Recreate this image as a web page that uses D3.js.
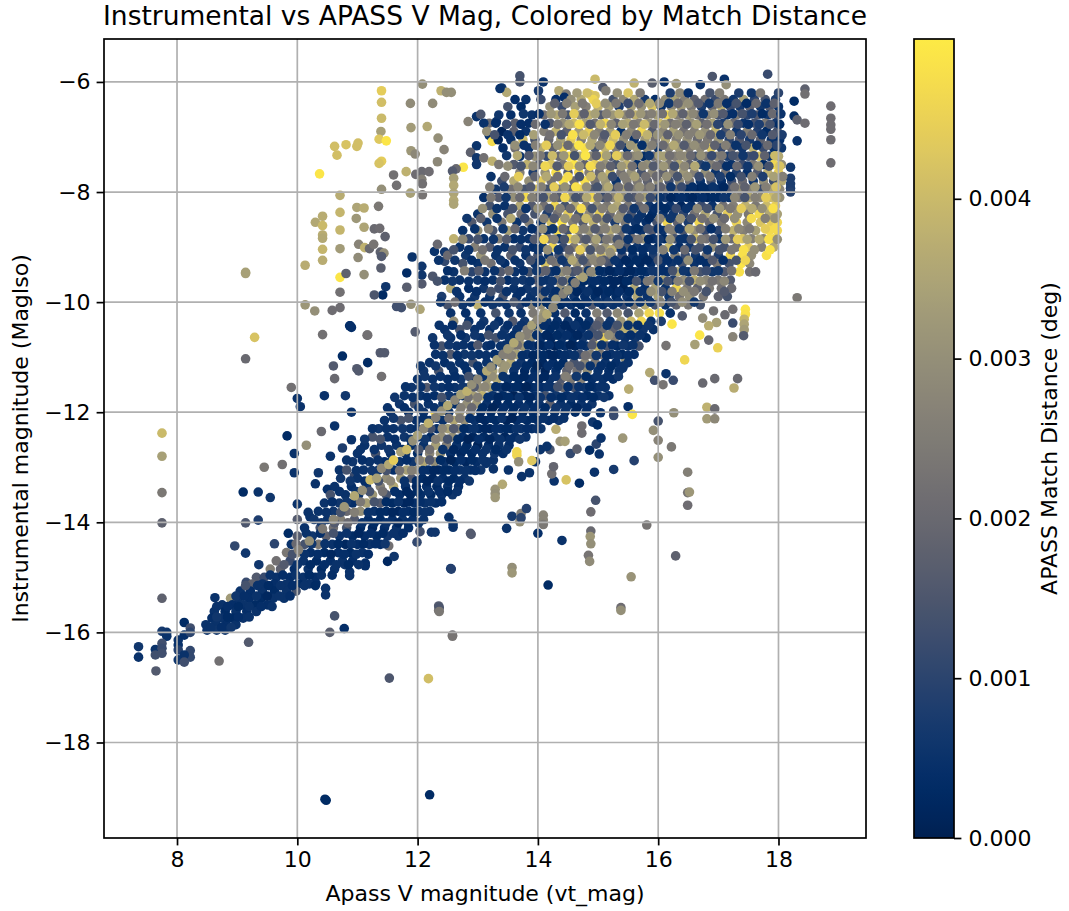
<!DOCTYPE html>
<html>
<head>
<meta charset="utf-8">
<script src="https://cdn.jsdelivr.net/npm/d3@7"></script>
<style>
  body { margin: 0; background: #fff; }
  text { font-family: "DejaVu Sans", sans-serif; fill: #000; }
</style>
</head>
<body>
<svg id="chart" width="1069" height="911"></svg>
<script>
// Labels and ticks.
var TITLE = 'Instrumental vs APASS V Mag, Colored by Match Distance';
var X_LABEL = 'Apass V magnitude (vt_mag)';
var Y_LABEL = 'Instrumental magnitude (MagIso)';
var BAR_LABEL = 'APASS Match Distance (deg)';
var xTicks = [8, 10, 12, 14, 16, 18];
var yTicks = [-6, -8, -10, -12, -14, -16, -18];
var barTicks = [0, 0.001, 0.002, 0.003, 0.004];
var xDomain = [6.786, 19.455];
var yDomain = [-5.22, -19.735];
var barDomain = [0, 0.005];

// Sparse stars, read one at a time: [vt_mag, MagIso, distance]
var outliers = [
  [11.4,-6.16,44],[11.4,-6.37,41],[11.88,-6.39,29],[12.08,-6.04,30],[12.25,-6.39,29],[12.39,-6.16,38],[12.48,-6.19,30],[12.56,-6.19,30],
  [11.4,-6.66,40],[11.39,-6.9,34],[11.89,-6.83,33],[12.16,-6.81,36],[12.34,-7.02,30],[11.36,-7.04,43],[11.48,-7.07,49],[10.62,-7.17,41],
  [10.81,-7.14,42],[10.99,-7.17,41],[11.01,-7.11,41],[10.66,-7.33,41],[11.89,-7.25,32],[11.96,-7.31,28],[12.44,-7.23,27],[11.4,-7.44,44],
  [11.36,-7.48,42],[12.33,-7.45,28],[10.37,-7.67,49],[11.6,-7.69,22],[11.65,-7.88,22],[11.81,-7.63,38],[11.97,-7.68,21],[12.07,-7.63,20],
  [12.19,-7.63,21],[12.07,-7.77,26],[12.08,-7.85,22],[11.4,-7.95,30],[11.88,-8.02,34],[12.08,-8.05,23],[10.71,-8.06,37],[10.71,-8.37,39],
  [10.99,-8.28,35],[11.11,-8.29,37],[11.35,-8.26,24],[10.42,-8.44,37],[10.3,-8.55,36],[10.42,-8.61,40],[10.42,-8.78,37],[10.42,-8.84,36],
  [10.71,-8.69,39],[10.98,-8.48,32],[11.11,-8.64,35],[11.28,-8.67,20],[11.37,-8.66,21],[11.46,-8.81,18],[11.02,-8.95,27],[11.12,-9.01,38],
  [11.2,-9.03,20],[11.27,-8.95,23],[10.42,-9.04,39],[10.42,-9.24,37],[10.71,-9.03,33],[11.01,-9.19,29],[11.38,-9.09,18],[11.44,-9.11,30],
  [11.4,-9.17,16],[11.39,-9.38,17],[10.13,-9.33,37],[9.14,-9.46,34],[9.14,-9.48,34],[10.71,-9.55,49],[10.81,-9.48,18],[11.11,-9.5,30],
  [11.82,-9.47,3],[12.07,-9.35,6],[12.07,-9.51,6],[12.07,-9.67,16],[12.25,-9.53,15],[11.91,-9.18,5],[12.28,-9.08,5],[12.45,-9.09,6],
  [12.45,-9.26,11],[12.33,-8.95,20],[11.47,-9.72,6],[11.42,-9.87,3],[11.28,-9.87,15],[11.82,-9.73,17],[10.71,-9.82,22],[10.71,-10.1,21],
  [10.58,-10.15,21],[10.29,-10.16,30],[10.13,-10.05,32],[10.87,-10.43,4],[10.9,-10.46,4],[10.42,-10.59,22],[11.16,-10.6,22],[9.29,-10.64,42],
  [11.65,-10.08,13],[11.73,-10.1,13],[11.89,-10.04,30],[12.04,-10.13,35],[11.96,-10.54,16],[9.14,-11.03,20],[9.83,-12.43,3],
  [7.75,-12.38,40],[7.75,-12.8,34],[7.75,-13.46,24],[7.75,-14.01,18],[7.75,-15.38,18],[7.36,-16.26,6],[7.36,-16.45,5],[7.64,-16.31,5],
  [7.64,-16.41,13],[7.65,-16.7,16],[7.75,-15.98,7],[7.83,-16,6],[7.83,-16.07,5],[7.75,-16.2,13],[7.75,-16.29,12],[7.75,-16.38,13],
  [8.02,-16.14,5],[8.02,-16.23,5],[8.02,-16.32,9],[8.02,-16.5,6],[8.12,-15.82,3],[8.12,-16.05,4],[8.22,-15.92,13],[8.22,-16,10],
  [8.22,-16.33,11],[8.22,-16.45,11],[8.12,-16.41,5],[8.12,-16.54,13],[8.63,-15.37,5],[8.7,-16.52,22],[9.19,-16.18,16],[8.96,-14.43,11],
  [9.14,-14.56,6],[9.14,-14.01,15],[9.35,-13.96,8],[9.62,-14.39,10],[9.36,-14.77,6],[9.15,-15.09,12],[9.85,-14.2,3],[10,-13.67,5],
  [10,-13.95,16],[10.18,-13.82,5],[10.21,-13.9,5],[10.47,-15.2,5],[10.47,-15.32,5],[10.62,-15.7,14],[10.54,-16,17],[10.78,-15.93,4],
  [10.31,-15.11,4],[10.87,-14.9,5],[10.87,-14.97,5],[11.13,-14.74,4],[11.13,-14.79,4],[10.79,-14.77,6],[11.5,-14.71,2],[11.61,-14.62,6],
  [11.52,-14.43,22],[11.22,-14.39,17],[11.99,-14.36,11],[12.04,-14.17,13],[12.23,-14.18,6],[12.29,-14.18,6],[12.55,-14.84,7],[12.88,-14.2,16],
  [12.52,-13.91,5],[12.59,-14.03,5],[12.59,-14.09,5],[12.35,-15.52,16],[12.35,-15.6,23],[12.58,-16.05,21],[12.58,-16.07,23],[11.53,-16.83,15],
  [12.18,-16.84,41],[10.48,-19.05,3],[10.46,-19.03,3],[12.2,-18.95,3],
  [17.45,-10.13,49],[17.45,-10.22,48],[17.43,-10.31,39],[17.43,-10.4,35],[17.43,-10.5,33],[17.42,-10.61,16],[17.24,-10.13,22],[17.24,-10.38,12],
  [17.24,-10.63,27],[17.11,-10.23,20],[16.92,-10.16,22],[16.97,-10.37,34],[16.84,-10.43,37],[16.74,-10.29,29],[16.69,-10.6,49],[16.61,-10.77,34],
  [16.84,-10.69,19],[16.99,-10.83,45],[16.44,-11.05,46],[16.13,-10.79,23],[16.23,-10.4,49],[16.4,-10.25,16],[16.74,-11.47,20],[16.94,-11.39,20],
  [17.32,-11.39,20],[17.26,-11.56,37],[16.81,-11.91,38],[16.94,-11.94,20],[16.81,-12.12,33],[16.94,-12.12,28],[16.26,-12.01,30],[16,-12.16,14],
  [15.92,-12.33,30],[16,-12.51,27],[16.22,-12.63,24],[16,-12.82,30],[16.49,-13.09,26],[16.49,-13.46,23],[16.52,-13.45,32],[16.49,-13.69,21],
  [15.81,-14.05,23],[16.29,-14.61,18],[15.55,-14.99,31],[15.38,-15.55,21],[15.38,-15.6,30],[14.17,-15.14,3],[13.57,-14.82,30],[13.57,-14.92,32],
  [12.56,-14.85,9],[12.36,-15.55,15],[12.36,-15.62,24],[12.89,-14.22,16],[13.48,-14.11,5],[14,-14.2,4],[14.4,-14.33,5],[14.88,-13.81,21],
  [14.96,-13.6,14],[14.88,-14.16,20],[14.87,-14.26,32],[14.88,-14.39,30],[14.84,-14.6,23],[14.86,-14.71,29],[14.09,-13.87,27],[14.09,-13.96,27],
  [14.09,-14.04,24],[13.57,-13.89,7],[13.72,-13.84,25],[13.7,-13.99,30],[13.72,-13.92,10],[13.81,-13.75,9],[13.41,-13.31,36],[13.29,-13.4,31],
  [13.29,-13.48,30],[13.29,-13.55,32],[14.27,-13.25,5],[14.23,-13.12,22],[14.26,-12.99,19],[14.47,-13.23,42],[14.69,-13.29,3],[14.94,-13.09,5],
  [15.26,-13.04,7],[15.6,-12.88,9],[15.02,-12.76,5],[14.86,-12.69,3],[14.97,-12.58,10],[15.05,-12.47,5],[14.54,-12.75,11],[14.65,-12.67,18],
  [15.41,-12.47,32],[14.73,-12.25,21],[14.73,-12.38,21],[14.91,-12.18,6],[14.99,-12.23,3],[15.5,-11.9,4],[15.57,-12.04,49],[15.26,-11.98,12],
  [15.26,-12.06,12],[15.04,-12.01,5],[15.51,-11.58,37],[15.41,-11.2,6],[15.45,-11.02,31],[15.86,-11.28,36],[15.94,-11.42,13],[16.08,-11.5,23],
  [16.13,-11.3,5],[16.25,-11.42,12],[13.65,-12.72,46],[13.65,-12.78,46],[13.68,-12.9,30],[13.96,-12.9,5],[13.9,-12.88,43],[13.51,-13.05,5],
  [13.73,-13.17,5],[13.86,-13.1,5],[13.26,-12.87,5],[13.26,-13.03,5],[13.14,-12.93,5],[14.3,-12.31,37],[14.37,-12.53,31],[14.45,-12.53,34],
  [14.2,-12.68,14],[14.04,-12.68,5],[14.15,-12.62,5],[13.7,-6.0,14],[13.7,-5.89,14],[14.09,-6,5],[14.95,-5.95,40],[15.6,-6.02,38],[15.9,-6.02,17],
  [16.1,-6,5],[16.3,-6.03,32],[16.7,-6.05,5],[16.9,-5.9,15],[17.1,-5.95,5],[17.82,-5.86,12],[17.13,-6.05,30],[18.26,-6.35,3],[18.44,-6.13,18],
  [18.44,-6.22,22],[18.87,-6.44,21],[18.87,-6.66,21],[18.87,-6.78,21],[18.87,-6.86,21],[18.87,-7.05,21],[18.87,-7.47,21],[18.26,-6.62,3],
  [18.31,-6.69,18],[18.44,-6.75,21],[18.31,-7.07,5],[18.2,-7.55,6],[18.2,-7.75,8],[18.2,-7.85,8],[18.2,-7.93,8],[18.2,-8,9],[18.31,-9.92,24],
  [13.4,-6.11,6],[13.48,-6.19,36],[14.01,-6.16,7],[14.35,-6.16,36],[14.47,-6.22,25],[14.44,-6.28,4],[15.08,-6.1,15],[15.13,-6.16,25],
  [14.87,-6.23,45],[14.95,-6.25,42],[12.84,-6.72,27],[12.98,-6.63,5],[13.05,-6.59,15],[13.19,-6.75,20],[13.31,-6.72,6],[13.37,-6.12,5],
  [13.19,-6.97,5],[13.24,-7.08,47],[13.34,-7.05,1],[12.98,-7.16,5],[12.88,-7.28,18],[12.98,-7.38,6],[13.1,-7.38,22],[13.24,-7.44,38],
  [12.98,-7.5,6],[12.76,-7.55,49],[12.64,-7.58,20],[12.58,-7.62,16],[12.6,-7.75,34],[12.6,-7.88,36],[12.6,-8.02,35],[12.6,-8.15,36],[12.6,-8.22,35],
  [10.6,-11.16,16],[10.62,-11.39,20],[10.99,-11.21,16],[11.02,-11.25,16],[11.17,-10.6,22],[10.88,-10.43,4],[10.75,-10.98,3],[11.17,-11.1,3],
  [11.38,-10.92,16],[11.45,-10.92,16],[11.4,-11.35,22],[10.8,-11.7,6],[10.45,-11.7,5],[10.9,-12.0,5],[10.62,-12.25,5],[10.9,-12.5,5],[10.55,-12.8,5],
  [10.4,-12.35,20],[10.75,-12.65,8],[10.35,-13.1,6],[10.7,-13.05,5],[10.95,-13.15,12],[10.5,-13.4,4],[10.3,-13.3,5],[9.95,-13.1,5],[9.75,-12.95,22],
  [9.95,-12.75,5],[10.15,-12.6,30],[9.9,-11.55,22],[10,-11.75,5],[10.05,-11.9,5],[9.45,-13,24],[9.55,-13.55,6],[9.35,-13.45,5],[9.1,-13.45,3]
];

// Dense cloud, read row by row: [MagIso, vt_mag, distance, vt_mag, distance, ...]
var cloudRows = [
  [-6.32, 13.62,4, 13.8,5, 14.05,12, 14.3,4, 14.55,30, 14.72,36, 14.92,46, 15.25,14, 15.42,28, 15.6,36, 15.78,7, 15.95,4, 16.12,30, 16.28,34, 16.44,26, 16.6,18, 16.78,22, 16.95,12, 17.1,24, 17.25,6, 17.42,34, 17.6,10, 17.78,14, 17.95,8],
  [-6.45, 13.5,14, 13.72,3, 14.2,30, 14.4,12, 14.62,34, 14.8,26, 15,38, 15.18,34, 15.35,8, 15.55,33, 15.72,30, 15.9,42, 16.05,5, 16.22,28, 16.38,32, 16.55,24, 16.72,8, 16.9,20, 17.05,36, 17.2,12, 17.36,7, 17.52,18, 17.7,6, 17.85,16, 18,5],
  [-6.6, 13.35,6, 13.55,4, 13.9,5, 14.1,22, 14.32,36, 14.5,14, 14.7,30, 14.85,38, 15.05,16, 15.25,32, 15.45,28, 15.62,38, 15.8,24, 15.98,34, 16.15,46, 16.32,26, 16.5,33, 16.66,22, 16.82,26, 17,14, 17.15,5, 17.3,24, 17.48,10, 17.65,16, 17.82,6, 17.98,12],
  [-6.75, 13.1,5, 13.3,4, 13.62,18, 13.85,4, 14.2,16, 14.42,30, 14.6,40, 14.78,34, 14.95,22, 15.12,46, 15.3,18, 15.5,36, 15.68,26, 15.85,30, 16.02,40, 16.2,22, 16.38,28, 16.55,30, 16.72,18, 16.9,34, 17.08,8, 17.25,20, 17.42,5, 17.6,13, 17.78,24, 17.95,7],
  [-6.9, 13.15,30, 13.4,1, 13.6,18, 13.8,5, 14.1,26, 14.3,38, 14.48,18, 14.68,33, 14.85,44, 15.02,26, 15.2,34, 15.38,4, 15.55,28, 15.72,46, 15.9,16, 16.08,28, 16.25,34, 16.42,22, 16.6,26, 16.78,30, 16.95,38, 17.12,14, 17.3,6, 17.48,26, 17.65,9, 17.8,3, 17.98,14],
  [-7.05, 13.55,5, 13.75,40, 13.95,14, 14.18,20, 14.38,34, 14.55,44, 14.72,26, 14.9,36, 15.08,20, 15.25,40, 15.42,30, 15.6,4, 15.78,32, 15.95,22, 16.12,36, 16.3,26, 16.48,30, 16.65,20, 16.82,24, 17,32, 17.18,10, 17.35,16, 17.52,7, 17.7,18, 17.88,5, 18.02,4],
  [-7.2, 13.42,4, 13.62,22, 13.85,5, 14.05,36, 14.25,18, 14.42,46, 14.6,30, 14.78,48, 14.95,14, 15.12,38, 15.3,26, 15.48,5, 15.65,34, 15.82,30, 16,6, 16.18,28, 16.35,32, 16.52,24, 16.7,28, 16.88,42, 17.05,12, 17.22,20, 17.4,6, 17.58,38, 17.75,12, 17.92,4, 18.05,6],
  [-7.35, 13.7,5, 13.95,30, 14.15,12, 14.35,20, 14.52,48, 14.7,36, 14.88,28, 15.05,46, 15.22,16, 15.4,34, 15.58,28, 15.75,3, 15.92,22, 16.1,34, 16.28,26, 16.45,30, 16.62,14, 16.8,22, 16.98,28, 17.15,8, 17.32,18, 17.5,14, 17.68,42, 17.85,6, 18,36],
  [-7.5, 13.35,24, 13.6,16, 13.82,38, 14.02,18, 14.22,42, 14.42,24, 14.6,49, 14.78,18, 14.95,44, 15.12,30, 15.3,14, 15.48,38, 15.65,4, 15.82,30, 16,26, 16.18,24, 16.35,36, 16.52,18, 16.7,10, 16.88,26, 17.05,16, 17.22,5, 17.4,12, 17.58,24, 17.75,3, 17.92,46, 18.05,30],
  [-7.65, 13.7,26, 13.92,8, 14.12,30, 14.3,48, 14.5,16, 14.68,47, 14.85,26, 15.02,20, 15.2,40, 15.38,22, 15.55,30, 15.72,14, 15.9,28, 16.08,18, 16.25,26, 16.42,32, 16.6,26, 16.78,30, 16.95,5, 17.12,22, 17.3,8, 17.48,4, 17.65,16, 17.82,38, 18,44],
  [-7.8, 13.4,12, 13.6,36, 13.85,30, 14.05,44, 14.22,22, 14.42,49, 14.6,20, 14.78,48, 14.95,22, 15.12,32, 15.3,5, 15.48,26, 15.65,24, 15.82,18, 16,30, 16.18,13, 16.35,28, 16.52,22, 16.7,5, 16.88,14, 17.05,4, 17.22,12, 17.4,20, 17.58,6, 17.75,30, 17.92,12, 18.05,36],
  [-7.95, 13.3,6, 13.55,22, 13.78,14, 13.98,42, 14.15,14, 14.35,24, 14.55,18, 14.72,44, 14.9,16, 15.08,30, 15.25,14, 15.42,34, 15.6,26, 15.78,22, 15.95,14, 16.12,26, 16.3,20, 16.48,3, 16.65,2, 16.82,3, 17,4, 17.18,16, 17.35,30, 17.52,26, 17.7,12, 17.88,34, 18.02,28],
  [-8.1, 13.1,4, 13.35,16, 13.6,30, 13.8,47, 14,20, 14.18,36, 14.35,16, 14.55,30, 14.72,18, 14.9,46, 15.08,12, 15.25,28, 15.42,30, 15.6,16, 15.78,34, 15.95,26, 16.12,8, 16.3,4, 16.48,3, 16.65,5, 16.82,2, 17,3, 17.18,5, 17.35,24, 17.52,36, 17.7,28, 17.88,40, 18.02,30],
  [-8.25, 13.2,14, 13.45,5, 13.7,36, 13.9,16, 14.1,22, 14.28,46, 14.45,14, 14.62,36, 14.8,24, 14.98,30, 15.15,24, 15.32,36, 15.5,24, 15.68,20, 15.85,6, 16.02,3, 16.2,5, 16.38,2, 16.55,4, 16.72,12, 16.9,5, 17.08,22, 17.25,26, 17.45,38, 17.62,24, 17.8,40, 17.95,44],
  [-8.4, 13,5, 13.25,30, 13.5,14, 13.72,22, 13.95,14, 14.15,8, 14.32,22, 14.5,44, 14.68,14, 14.85,28, 15.02,44, 15.2,20, 15.38,28, 15.55,14, 15.72,5, 15.9,3, 16.08,5, 16.25,6, 16.42,10, 16.6,22, 16.78,36, 16.98,14, 17.15,44, 17.32,30, 17.5,24, 17.68,47, 17.85,36, 17.98,34],
  [-8.55, 12.9,16, 13.15,6, 13.4,24, 13.65,5, 13.85,26, 14.05,5, 14.22,42, 14.4,49, 14.58,26, 14.75,16, 14.92,38, 15.1,30, 15.28,8, 15.45,24, 15.62,6, 15.8,4, 15.98,14, 16.15,46, 16.32,18, 16.5,8, 16.68,46, 16.85,20, 17.05,24, 17.3,45, 17.48,28, 17.7,42, 17.88,44, 17.98,46],
  [-8.7, 12.75,5, 13,30, 13.25,14, 13.5,34, 13.75,6, 14,12, 14.15,5, 14.32,47, 14.5,14, 14.68,28, 14.85,32, 15.02,24, 15.2,36, 15.38,20, 15.55,4, 15.72,5, 15.9,16, 16.08,5, 16.25,26, 16.42,14, 16.6,30, 16.78,12, 17,10, 17.25,38, 17.42,26, 17.62,34, 17.85,47, 17.98,46],
  [-8.85, 12.6,38, 12.85,12, 13.1,5, 13.35,26, 13.6,4, 13.85,5, 14.02,14, 14.18,22, 14.35,6, 14.52,46, 14.7,20, 14.88,26, 15.05,14, 15.22,28, 15.4,22, 15.58,20, 15.75,30, 15.92,4, 16.1,3, 16.28,14, 16.45,5, 16.62,40, 16.8,22, 17.02,5, 17.22,20, 17.4,42, 17.55,26, 17.75,28, 17.92,47],
  [-9, 12.7,5, 12.95,26, 13.2,16, 13.45,5, 13.7,12, 13.92,4, 14.08,6, 14.25,46, 14.42,12, 14.6,24, 14.78,36, 14.95,28, 15.12,32, 15.3,26, 15.48,14, 15.65,6, 15.82,5, 16,3, 16.18,40, 16.35,4, 16.52,6, 16.7,14, 16.9,30, 17.1,14, 17.3,24, 17.5,44, 17.72,26, 17.92,36],
  [-9.15, 12.5,20, 12.8,6, 13.05,32, 13.3,5, 13.55,18, 13.8,5, 14,14, 14.18,5, 14.35,14, 14.52,28, 14.7,20, 14.88,30, 15.05,40, 15.22,26, 15.4,12, 15.58,5, 15.75,3, 15.92,8, 16.1,5, 16.28,26, 16.45,12, 16.62,6, 16.8,22, 17,8, 17.2,46, 17.4,48, 17.55,30, 17.8,48],
  [-9.3, 12.75,14, 13,5, 13.22,22, 13.45,4, 13.7,6, 13.95,5, 14.12,42, 14.3,24, 14.48,8, 14.65,30, 14.82,22, 15,26, 15.18,14, 15.35,4, 15.52,3, 15.7,2, 15.88,4, 16.05,5, 16.22,6, 16.4,14, 16.6,5, 16.8,4, 16.98,24, 17.18,14, 17.38,49, 17.52,28],
  [-9.45, 12.6,5, 12.9,10, 13.12,5, 13.38,16, 13.62,5, 13.85,14, 14.05,20, 14.22,6, 14.4,30, 14.58,14, 14.75,28, 14.92,34, 15.1,5, 15.28,3, 15.45,2, 15.62,4, 15.8,4, 15.98,6, 16.15,5, 16.32,36, 16.5,5, 16.7,14, 16.9,6, 17.1,16, 17.35,48, 17.52,22, 17.62,20],
  [-9.6, 12.45,5, 12.7,5, 13,6, 13.25,5, 13.5,4, 13.75,6, 13.98,16, 14.15,5, 14.32,24, 14.5,30, 14.68,38, 14.85,5, 15.02,4, 15.2,2, 15.38,1, 15.55,2, 15.72,3, 15.9,26, 16.08,36, 16.25,8, 16.42,30, 16.6,38, 16.8,28, 17,24, 17.2,16],
  [-9.75, 12.55,36, 12.85,4, 13.1,6, 13.35,12, 13.6,5, 13.82,6, 14.02,16, 14.2,6, 14.38,30, 14.55,6, 14.72,4, 14.9,3, 15.08,4, 15.25,2, 15.42,1, 15.6,36, 15.78,4, 15.95,34, 16.12,5, 16.3,46, 16.48,24, 16.65,18, 16.85,24, 17.05,22, 17.22,20],
  [-9.9, 12.4,8, 12.7,5, 12.95,6, 13.2,5, 13.42,14, 13.65,4, 13.88,5, 14.08,26, 14.25,5, 14.42,4, 14.6,6, 14.78,4, 14.95,3, 15.12,4, 15.3,3, 15.48,5, 15.65,36, 15.82,5, 16,34, 16.18,6, 16.35,22, 16.52,30, 16.75,24, 17,18, 17.15,14],
  [-10.05, 12.5,14, 12.75,6, 13,38, 13.25,6, 13.48,5, 13.7,10, 13.9,26, 14.05,30, 14.2,5, 14.38,3, 14.55,5, 14.72,3, 14.9,16, 15.08,4, 15.25,5, 15.42,12, 15.6,24, 15.78,36, 15.95,14, 16.12,5, 16.3,18, 16.5,24, 16.7,14],
  [-10.2, 12.55,5, 12.8,4, 13.05,5, 13.3,14, 13.52,6, 13.72,5, 13.92,24, 14.1,32, 14.28,4, 14.45,16, 14.62,3, 14.8,5, 14.98,26, 15.15,16, 15.32,28, 15.5,14, 15.68,34, 15.85,46, 16.02,48, 16.2,5]
];

// Second pass over the cloud, stars that sit between the first rows.
var cloudInfill = [
  [-6.2, 14.65,33, 14.82,40, 15.32,30, 15.5,42, 15.7,24, 16.2,8, 16.36,28, 16.5,4, 16.86,14, 17.02,26, 17.34,8, 17.55,6, 17.7,24, 18,10],
  [-6.39, 14.28,18, 14.48,26, 14.74,24, 14.97,44, 15.12,30, 15.3,24, 15.5,12, 15.68,22, 15.86,36, 16.02,28, 16.18,6, 16.33,20, 16.5,30, 16.67,16, 16.85,6, 17,24, 17.14,4, 17.3,14, 17.47,3, 17.63,20, 17.8,5, 17.93,18],
  [-6.58, 13.76,6, 14.02,4, 14.22,32, 14.41,24, 14.6,44, 14.77,18, 14.95,34, 15.14,26, 15.35,38, 15.53,22, 15.71,32, 15.89,26, 16.07,22, 16.24,36, 16.41,18, 16.58,28, 16.75,6, 16.93,30, 17.08,16, 17.24,4, 17.4,14, 17.56,8, 17.73,3, 17.9,20, 18.04,5],
  [-6.77, 13.48,12, 13.72,4, 13.96,20, 14.12,5, 14.33,24, 14.52,36, 14.69,48, 14.87,16, 15.04,38, 15.22,28, 15.41,34, 15.59,24, 15.77,40, 15.94,20, 16.11,32, 16.29,26, 16.47,18, 16.64,34, 16.81,22, 16.99,10, 17.16,30, 17.33,12, 17.5,4, 17.68,8, 17.86,14, 18.02,3],
  [-6.96, 13.28,14, 13.5,5, 13.7,3, 13.93,34, 14.2,22, 14.39,14, 14.58,48, 14.76,40, 14.94,28, 15.11,16, 15.29,44, 15.47,26, 15.64,20, 15.82,38, 15.99,30, 16.16,18, 16.34,30, 16.51,26, 16.69,32, 16.87,20, 17.04,8, 17.2,26, 17.38,10, 17.56,20, 17.73,6, 17.9,16, 18.06,8],
  [-7.15, 13.62,30, 13.77,5, 13.96,26, 14.14,44, 14.33,30, 14.5,20, 14.68,49, 14.87,36, 15.03,28, 15.2,46, 15.37,14, 15.54,32, 15.73,4, 15.9,26, 16.08,20, 16.26,36, 16.43,16, 16.6,30, 16.77,24, 16.94,18, 17.12,26, 17.29,5, 17.46,14, 17.64,4, 17.82,20, 17.97,10],
  [-7.34, 13.48,6, 13.66,36, 13.85,16, 14.04,24, 14.24,40, 14.43,32, 14.61,14, 14.79,49, 14.97,18, 15.14,34, 15.31,44, 15.49,20, 15.67,30, 15.85,6, 16.02,34, 16.19,22, 16.37,28, 16.54,20, 16.71,30, 16.89,12, 17.06,24, 17.24,14, 17.41,6, 17.59,12, 17.77,18, 17.94,40],
  [-7.53, 13.5,30, 13.72,14, 13.92,28, 14.12,46, 14.32,16, 14.51,44, 14.69,30, 14.87,47, 15.04,26, 15.21,18, 15.39,32, 15.57,22, 15.74,28, 15.92,16, 16.09,32, 16.27,14, 16.44,28, 16.61,36, 16.79,6, 16.97,20, 17.14,4, 17.31,20, 17.49,6, 17.67,30, 17.84,14, 18.02,42],
  [-7.72, 13.22,5, 13.45,20, 13.68,44, 13.95,18, 14.14,36, 14.33,22, 14.5,47, 14.69,14, 14.88,40, 15.07,34, 15.24,12, 15.43,26, 15.61,34, 15.79,22, 15.97,20, 16.14,30, 16.32,14, 16.49,30, 16.68,12, 16.86,24, 17.03,8, 17.2,3, 17.38,14, 17.56,26, 17.74,8, 17.92,34, 18.07,26],
  [-7.91, 13.2,26, 13.44,8, 13.67,28, 13.88,16, 14.06,26, 14.27,44, 14.45,30, 14.63,48, 14.81,30, 14.99,14, 15.17,36, 15.34,22, 15.51,18, 15.69,30, 15.87,26, 16.04,18, 16.21,6, 16.39,12, 16.57,4, 16.74,3, 16.91,5, 17.09,2, 17.27,22, 17.44,18, 17.61,32, 17.79,26, 17.96,42],
  [-8.1, 13.22,24, 13.47,6, 13.7,20, 13.9,26, 14.09,14, 14.27,22, 14.45,46, 14.63,14, 14.81,36, 15,24, 15.16,18, 15.34,38, 15.51,14, 15.69,26, 15.87,12, 16.03,5, 16.21,2, 16.39,4, 16.57,2, 16.74,4, 16.91,3, 17.09,6, 17.27,28, 17.44,14, 17.61,26, 17.79,44, 17.96,36],
  [-8.3, 13.08,30, 13.32,5, 13.58,14, 13.8,5, 14,30, 14.19,14, 14.37,26, 14.54,20, 14.72,47, 14.9,14, 15.07,26, 15.24,34, 15.42,16, 15.6,6, 15.77,22, 15.95,4, 16.12,3, 16.3,12, 16.47,5, 16.65,28, 16.82,14, 17.02,32, 17.2,24, 17.38,44, 17.56,36, 17.73,30, 17.91,48],
  [-8.48, 12.82,6, 13.05,18, 13.32,5, 13.55,36, 13.78,12, 14.1,26, 14.27,16, 14.45,32, 14.63,22, 14.8,40, 14.98,20, 15.15,14, 15.33,30, 15.5,6, 15.67,5, 15.85,2, 16.03,26, 16.2,6, 16.37,30, 16.55,14, 16.73,22, 16.92,30, 17.1,20, 17.27,30, 17.55,47, 17.78,26, 17.94,30],
  [-8.67, 12.95,5, 13.18,26, 13.42,6, 13.62,20, 13.9,4, 14.08,30, 14.25,6, 14.42,20, 14.6,47, 14.77,26, 14.95,16, 15.12,26, 15.3,30, 15.47,6, 15.65,3, 15.83,14, 16,4, 16.18,26, 16.35,6, 16.52,36, 16.7,22, 16.88,4, 17.12,26, 17.34,28, 17.52,24, 17.78,44, 17.94,47],
  [-8.86, 12.75,28, 13,14, 13.26,6, 13.48,16, 13.72,5, 13.94,16, 14.1,46, 14.27,26, 14.44,14, 14.62,36, 14.8,16, 14.97,34, 15.14,24, 15.32,14, 15.5,5, 15.67,24, 15.84,2, 16.02,6, 16.2,30, 16.37,5, 16.55,14, 16.72,24, 16.92,14, 17.12,32, 17.32,44, 17.48,34, 17.68,36, 17.84,48, 17.98,30],
  [-9.05, 12.6,14, 12.85,5, 13.08,22, 13.33,5, 13.58,14, 13.8,6, 14,5, 14.16,30, 14.34,6, 14.52,18, 14.7,44, 14.87,14, 15.04,24, 15.22,38, 15.39,5, 15.57,3, 15.74,4, 15.91,6, 16.08,26, 16.26,6, 16.44,20, 16.62,14, 16.82,6, 17.02,14, 17.22,24, 17.42,48, 17.6,30, 17.86,49],
  [-9.24, 12.35,5, 12.62,6, 12.9,4, 13.12,24, 13.38,6, 13.62,5, 13.88,14, 14.05,5, 14.22,22, 14.4,6, 14.57,36, 14.75,14, 14.93,28, 15.1,16, 15.28,5, 15.46,2, 15.64,3, 15.82,2, 16,14, 16.15,4, 16.33,5, 16.5,30, 16.7,4, 16.9,16, 17.08,4, 17.3,14, 17.45,46],
  [-9.43, 12.5,4, 12.78,26, 13.02,16, 13.28,5, 13.52,20, 13.76,4, 13.98,6, 14.13,18, 14.3,4, 14.48,26, 14.66,16, 14.84,6, 15.02,3, 15.19,2, 15.36,4, 15.54,2, 15.72,3, 15.9,6, 16.07,4, 16.24,14, 16.42,6, 16.6,24, 16.8,12, 17,6, 17.22,22],
  [-9.62, 12.33,14, 12.58,6, 12.85,5, 13.12,4, 13.38,14, 13.62,6, 13.87,5, 14.06,5, 14.24,6, 14.41,14, 14.58,4, 14.76,3, 14.94,4, 15.11,3, 15.29,2, 15.47,3, 15.64,14, 15.82,24, 16,6, 16.16,14, 16.33,26, 16.52,14, 16.7,30, 16.9,22, 17.1,28],
  [-9.81, 12.65,5, 12.98,4, 13.22,14, 13.48,5, 13.72,4, 13.95,6, 14.12,5, 14.3,4, 14.47,3, 14.65,2, 14.83,5, 15,2, 15.18,3, 15.35,4, 15.52,3, 15.7,5, 15.88,30, 16.06,14, 16.23,26, 16.42,30, 16.6,24, 16.8,14, 17.1,16],
  [-10, 12.38,6, 12.62,20, 12.88,5, 13.12,4, 13.36,6, 13.6,14, 13.8,4, 13.98,5, 14.14,3, 14.3,2, 14.47,4, 14.64,3, 14.82,4, 15,5, 15.17,6, 15.34,5, 15.52,3, 15.7,5, 15.87,6, 16.04,26, 16.22,14, 16.4,30, 16.6,6]
];

// Main sequence band, read row by row in the same form as the cloud.
var bandRows = [
  [-10.35, 12.6,30, 12.85,5, 13.1,6, 13.35,4, 13.58,16, 13.78,6, 13.98,30, 14.15,5, 14.32,4, 14.5,6, 14.68,3, 14.85,5, 15.02,20, 15.2,6, 15.38,32, 15.55,40, 15.72,46, 15.88,5, 16.05,8],
  [-10.5, 12.45,5, 12.7,14, 12.95,5, 13.2,4, 13.45,6, 13.65,5, 13.85,24, 14,32, 14.2,3, 14.38,5, 14.55,2, 14.72,4, 14.9,14, 15.08,22, 15.25,18, 15.42,38, 15.58,36, 15.75,6, 15.92,5],
  [-10.65, 12.25,6, 12.55,5, 12.8,6, 13.05,5, 13.3,14, 13.52,5, 13.7,28, 13.88,30, 14.05,4, 14.22,2, 14.4,5, 14.58,3, 14.75,6, 14.92,18, 15.1,44, 15.28,26, 15.45,5, 15.62,6, 15.8,3],
  [-10.8, 12.4,14, 12.65,5, 12.9,4, 13.15,5, 13.38,5, 13.58,30, 13.75,32, 13.92,5, 14.1,3, 14.28,1, 14.45,4, 14.62,2, 14.8,5, 14.98,38, 15.15,14, 15.32,3, 15.5,5, 15.68,14],
  [-10.95, 12.3,5, 12.55,16, 12.78,6, 13.02,5, 13.28,4, 13.48,28, 13.65,34, 13.82,5, 14,4, 14.18,2, 14.35,3, 14.52,5, 14.7,12, 14.88,26, 15.05,24, 15.22,5, 15.4,3, 15.6,4],
  [-11.1, 12.2,5, 12.45,4, 12.7,5, 12.92,14, 13.15,5, 13.38,30, 13.55,36, 13.72,6, 13.9,3, 14.08,2, 14.25,4, 14.42,3, 14.6,14, 14.78,28, 14.95,24, 15.12,5, 15.3,4, 15.5,5],
  [-11.25, 12.1,6, 12.35,14, 12.6,5, 12.82,4, 13.05,6, 13.25,34, 13.42,32, 13.6,5, 13.78,2, 13.95,3, 14.12,1, 14.3,4, 14.48,18, 14.65,22, 14.82,30, 15,5, 15.18,4, 15.35,5],
  [-11.4, 12,5, 12.25,5, 12.5,4, 12.72,6, 12.95,5, 13.15,32, 13.32,36, 13.5,5, 13.68,3, 13.85,4, 14.02,2, 14.2,5, 14.38,16, 14.55,24, 14.72,26, 14.9,4, 15.08,5, 15.25,4],
  [-11.55, 11.9,6, 12.15,16, 12.4,5, 12.62,5, 12.85,4, 13.02,30, 13.2,34, 13.38,6, 13.55,4, 13.72,2, 13.9,3, 14.08,4, 14.25,5, 14.42,20, 14.6,14, 14.78,6, 14.95,4, 15.12,5],
  [-11.7, 11.78,5, 12.05,5, 12.28,4, 12.52,6, 12.75,5, 12.92,34, 13.08,38, 13.25,5, 13.42,3, 13.6,1, 13.78,2, 13.95,4, 14.12,14, 14.3,6, 14.48,4, 14.65,5, 14.82,3, 15,5, 15.18,4],
  [-11.85, 11.7,6, 11.95,14, 12.18,5, 12.42,5, 12.62,4, 12.82,30, 12.98,32, 13.15,5, 13.32,2, 13.5,3, 13.68,4, 13.85,3, 14.02,5, 14.2,18, 14.38,5, 14.55,3, 14.72,5, 14.9,6],
  [-12, 11.55,5, 11.85,5, 12.1,6, 12.29,46, 12.52,5, 12.7,32, 12.88,28, 13.05,4, 13.22,3, 13.4,2, 13.58,4, 13.75,2, 13.92,5, 14.1,6, 14.28,5, 14.45,4, 14.62,3, 14.8,5],
  [-12.15, 11.45,5, 11.72,14, 11.98,4, 12.2,5, 12.42,5, 12.6,36, 12.78,30, 12.95,5, 13.12,2, 13.3,3, 13.48,1, 13.65,4, 13.82,3, 14,5, 14.18,4, 14.35,6],
  [-12.3, 11.35,6, 11.6,5, 11.88,5, 12.1,6, 12.32,4, 12.5,34, 12.68,28, 12.85,5, 13.02,3, 13.2,2, 13.38,4, 13.55,3, 13.72,5, 13.9,4, 14.05,6],
  [-12.45, 11.25,14, 11.5,5, 11.78,6, 12,5, 12.22,3, 12.4,30, 12.58,30, 12.75,4, 12.92,2, 13.1,3, 13.28,5, 13.45,2, 13.62,4, 13.8,5],
  [-12.6, 11.12,5, 11.4,6, 11.65,5, 11.9,4, 12.1,5, 12.3,34, 12.48,26, 12.65,5, 12.82,3, 13,1, 13.18,4, 13.35,5, 13.52,4],
  [-12.75, 11,5, 11.3,14, 11.55,5, 11.8,6, 12,3, 12.2,28, 12.38,32, 12.55,4, 12.72,2, 12.9,3, 13.08,5, 13.28,6, 13.42,4],
  [-12.9, 10.92,6, 11.2,5, 11.45,4, 11.7,5, 11.92,6, 12.1,36, 12.28,30, 12.45,5, 12.62,3, 12.8,2, 12.98,4, 13.15,5],
  [-13.05, 10.82,14, 11.1,5, 11.35,6, 11.6,4, 11.82,34, 12,30, 12.18,4, 12.35,2, 12.52,3, 12.7,5, 12.88,4, 13.05,6],
  [-13.2, 10.72,6, 11,5, 11.25,4, 11.48,30, 11.72,32, 11.9,16, 12.08,3, 12.25,2, 12.42,4, 12.6,3, 12.78,5],
  [-13.35, 10.62,5, 10.9,4, 11.15,6, 11.38,26, 11.6,36, 11.8,5, 11.98,2, 12.15,4, 12.32,3, 12.5,5, 12.68,4],
  [-13.5, 10.55,14, 10.8,5, 11.02,5, 11.25,32, 11.48,14, 11.7,4, 11.88,2, 12.05,4, 12.22,3, 12.4,5, 12.58,6],
  [-13.65, 10.45,5, 10.7,6, 10.92,4, 11.15,34, 11.38,16, 11.58,3, 11.78,2, 11.95,4, 12.12,5, 12.3,4],
  [-13.8, 10.35,5, 10.6,6, 10.82,20, 11.05,30, 11.28,5, 11.48,3, 11.68,2, 11.85,4, 12.02,5, 12.2,5],
  [-13.95, 10.28,6, 10.5,5, 10.72,26, 10.95,16, 11.18,4, 11.38,3, 11.58,4, 11.75,5, 11.92,4, 12.1,5],
  [-14.1, 10.12,5, 10.38,14, 10.6,22, 10.82,14, 11.05,3, 11.25,2, 11.45,4, 11.65,5, 11.85,4],
  [-14.25, 10,16, 10.25,6, 10.48,18, 10.7,5, 10.92,3, 11.12,4, 11.32,3, 11.5,6, 11.68,5],
  [-14.4, 9.9,5, 10.12,14, 10.35,24, 10.58,5, 10.8,2, 11,4, 11.2,5, 11.38,4],
  [-14.55, 9.82,24, 10,28, 10.22,4, 10.45,3, 10.68,4, 10.88,3, 11.08,5],
  [-14.7, 9.65,22, 9.88,12, 10.1,5, 10.32,3, 10.55,4, 10.75,5, 10.92,4],
  [-14.85, 9.55,26, 9.72,18, 9.95,4, 10.18,5, 10.4,3, 10.62,5],
  [-15, 9.32,16, 9.45,12, 9.65,5, 9.88,4, 10.1,5, 10.3,4],
  [-15.12, 9.25,18, 9.42,5, 9.62,4, 9.82,5, 10.02,3, 10.2,5],
  [-15.25, 9.05,5, 9.22,4, 9.42,5, 9.62,3, 9.82,5, 9.98,14],
  [-15.38, 8.89,33, 9.02,5, 9.2,4, 9.4,3, 9.6,5, 9.78,5],
  [-15.5, 8.75,5, 8.92,4, 9.1,5, 9.3,3, 9.5,4],
  [-15.62, 8.62,5, 8.8,3, 8.98,5, 9.16,4, 9.32,5],
  [-15.74, 8.58,4, 8.75,5, 8.92,3, 9.1,5],
  [-15.86, 8.48,5, 8.65,5, 8.82,4, 8.98,5],
  [-15.96, 8.5,5, 8.66,6, 8.8,5]
];

// Second pass over the band, stars that sit between the first rows.
var bandInfill = [
  [-10.42, 12.36,5, 12.58,4, 12.82,14, 13.05,5, 13.28,6, 13.5,4, 13.72,5, 13.92,6, 14.1,4, 14.28,3, 14.45,2, 14.62,5, 14.8,3, 14.98,16, 15.15,5, 15.32,14, 15.5,5, 15.66,4, 15.84,6],
  [-10.6, 12.5,6, 12.72,4, 12.95,6, 13.18,14, 13.4,5, 13.6,4, 13.8,26, 13.98,4, 14.14,2, 14.32,3, 14.48,4, 14.66,2, 14.84,5, 15,14, 15.18,30, 15.36,6, 15.54,4, 15.7,5],
  [-10.78, 12.28,5, 12.52,6, 12.76,5, 13,16, 13.22,4, 13.46,5, 13.66,22, 13.84,4, 14.02,2, 14.19,4, 14.36,3, 14.54,1, 14.72,4, 14.9,16, 15.06,5, 15.24,4, 15.42,6, 15.58,5],
  [-10.97, 12.42,5, 12.66,4, 12.9,6, 13.14,5, 13.38,5, 13.56,26, 13.74,4, 13.92,2, 14.09,3, 14.26,2, 14.44,4, 14.61,5, 14.79,22, 14.97,6, 15.14,3, 15.32,5, 15.5,4],
  [-11.16, 12.05,5, 12.3,6, 12.55,5, 12.78,4, 13,5, 13.24,6, 13.46,32, 13.64,5, 13.81,3, 13.99,1, 14.17,4, 14.34,3, 14.52,20, 14.7,14, 14.87,5, 15.05,4, 15.22,3, 15.42,5],
  [-11.35, 12.12,6, 12.38,5, 12.62,4, 12.85,14, 13.08,5, 13.24,30, 13.42,5, 13.6,3, 13.77,2, 13.94,4, 14.11,2, 14.29,5, 14.46,26, 14.64,6, 14.8,3, 14.98,5, 15.16,4, 15.34,6],
  [-11.54, 11.8,5, 12.05,5, 12.28,6, 12.52,4, 12.75,6, 12.94,16, 13.12,28, 13.3,4, 13.47,2, 13.64,3, 13.81,1, 13.99,4, 14.16,5, 14.33,14, 14.5,4, 14.68,5, 14.86,3, 15.04,5],
  [-11.73, 11.62,6, 11.92,5, 12.16,4, 12.4,14, 12.64,5, 12.84,22, 13,26, 13.17,4, 13.34,2, 13.52,3, 13.69,5, 13.87,2, 14.04,6, 14.22,4, 14.39,3, 14.56,5, 14.74,4, 14.92,3, 15.1,6],
  [-11.92, 11.5,5, 11.78,4, 12.02,6, 12.28,5, 12.5,4, 12.72,26, 12.9,20, 13.08,3, 13.25,1, 13.43,4, 13.6,3, 13.78,5, 13.95,4, 14.12,3, 14.3,6, 14.47,5, 14.65,2, 14.82,4],
  [-12.11, 11.6,6, 11.85,14, 12.1,4, 12.32,5, 12.52,22, 12.7,24, 12.87,4, 13.04,2, 13.22,3, 13.4,5, 13.57,1, 13.74,4, 13.92,3, 14.09,5, 14.26,4, 14.43,5],
  [-12.3, 11.25,5, 11.48,5, 11.75,6, 12,4, 12.22,14, 12.41,28, 12.6,16, 12.77,3, 12.94,5, 13.12,2, 13.3,4, 13.47,3, 13.64,5, 13.82,4, 13.98,5],
  [-12.49, 11.12,6, 11.38,14, 11.62,4, 11.88,5, 12.12,6, 12.3,26, 12.5,14, 12.67,3, 12.84,1, 13.02,4, 13.2,2, 13.37,5, 13.54,4, 13.7,6],
  [-12.68, 11.05,5, 11.28,5, 11.52,6, 11.75,4, 12.02,14, 12.2,22, 12.42,5, 12.6,2, 12.78,3, 12.96,4, 13.14,5, 13.3,3, 13.48,5],
  [-12.87, 10.82,5, 11.08,4, 11.34,5, 11.58,6, 11.82,4, 12.03,26, 12.2,16, 12.38,3, 12.55,1, 12.72,4, 12.9,3, 13.08,5],
  [-13.06, 10.98,5, 11.24,6, 11.48,14, 11.7,22, 11.9,26, 12.09,4, 12.27,2, 12.44,3, 12.62,4, 12.8,5, 12.96,4],
  [-13.25, 10.88,6, 11.12,4, 11.35,14, 11.55,28, 11.78,5, 11.98,3, 12.16,2, 12.34,5, 12.52,3, 12.7,4, 12.86,6],
  [-13.44, 10.7,5, 10.98,5, 11.2,14, 11.42,22, 11.62,4, 11.82,2, 12,3, 12.18,5, 12.36,4, 12.5,3, 12.66,5],
  [-13.63, 10.58,4, 10.82,6, 11.05,24, 11.28,14, 11.48,3, 11.68,5, 11.86,2, 12.04,4, 12.22,5, 12.4,4],
  [-13.82, 10.48,5, 10.72,14, 10.95,26, 11.18,5, 11.38,3, 11.58,2, 11.76,4, 11.94,3, 12.12,5],
  [-14.01, 10.4,6, 10.62,16, 10.84,20, 11.08,5, 11.28,3, 11.48,5, 11.68,2, 11.84,4, 12.02,5],
  [-14.2, 10.15,5, 10.38,4, 10.6,14, 10.82,5, 11.02,2, 11.22,4, 11.42,3, 11.6,5, 11.76,4],
  [-14.39, 9.98,20, 10.24,6, 10.46,5, 10.68,3, 10.9,5, 11.1,3, 11.3,4, 11.46,6],
  [-14.58, 9.92,14, 10.12,5, 10.34,4, 10.56,2, 10.78,4, 10.98,5, 11.18,4],
  [-14.77, 9.78,16, 10,5, 10.22,3, 10.45,4, 10.65,5, 10.85,3, 11.02,5],
  [-14.96, 9.55,5, 9.76,4, 9.98,5, 10.2,3, 10.4,5, 10.58,4],
  [-15.15, 9.14,14, 9.34,5, 9.52,3, 9.72,5, 9.92,4, 10.12,5, 10.3,3],
  [-15.34, 8.98,6, 9.12,4, 9.32,5, 9.5,2, 9.7,5, 9.88,4],
  [-15.53, 8.66,5, 8.84,4, 9.02,3, 9.2,5, 9.4,4, 9.58,5],
  [-15.72, 8.66,6, 8.84,3, 9.02,4, 9.2,5],
  [-15.91, 8.56,5, 8.74,4, 8.9,6]
];

// Pale ridge that runs up the top of the band: [vt_mag, MagIso, distance]
var ridgeStars = [
  [10.02,-14.5,26],[10.2,-14.34,30],[10.42,-14.12,24],[10.6,-13.95,28],[10.78,-13.72,32],[10.95,-13.52,36],[11.08,-13.42,30],[11.21,-13.23,40],[11.32,-13.2,34],
  [11.4,-13.02,28],[11.52,-12.95,36],[11.6,-12.87,44],[11.72,-12.72,34],[11.82,-12.68,40],[11.92,-12.52,30],[12,-12.42,34],[12.1,-12.3,28],[12.18,-12.2,38],
  [12.3,-12.1,26],[12.4,-11.98,30],[12.5,-11.88,36],[12.62,-11.78,28],[12.72,-11.68,34],[12.82,-11.62,38],[12.9,-11.5,30],[13,-11.4,28],[13.15,-11.25,36],
  [13.22,-11.18,30],[13.32,-11.05,34],[13.42,-10.95,26],[13.5,-10.85,32],[13.6,-10.74,36],[13.7,-10.62,30],[13.82,-10.5,26],[13.9,-10.42,34],[14,-10.32,28],
  [14.08,-10.28,30],[14.15,-10.22,36],[14.25,-10.1,28],[14.3,-9.95,32],[14.42,-9.85,26],[14.5,-9.78,30],[14.62,-9.65,26],[14.75,-9.55,34],[14.88,-9.45,28],
  [15.05,-9.25,24],[15.2,-9.1,30],[15.35,-8.95,26]
];

var width = 1069, height = 911;
var margin = {left: 104, right: 866, top: 39, bottom: 838};
var bar = {left: 914, right: 954};
var DOT_RADIUS = 4.8;
var LINE_WIDTH = 1.7;
var TICK_LENGTH = 7.4;
var TICK_FONT = '22px';

var svg = d3.select('#chart');
var x = d3.scaleLinear().domain(xDomain).range([margin.left, margin.right]);
var y = d3.scaleLinear().domain(yDomain).range([margin.top, margin.bottom]);
var barScale = d3.scaleLinear().domain(barDomain).range([margin.bottom, margin.top]);
var color = d3.scaleSequential(d3.interpolateCividis).domain(barDomain);

/**
 * rowsToPoints
 * ============
 * Unpacks the row-wise tables into [x, y, distance] triples.
 */
var rowsToPoints = function(rows) {
  var result = [];
  rows.forEach(function(row) {
    for (var i = 1; i < row.length; i += 2) {
      result.push([row[i], row[0], row[i + 1]]);
    }
  });
  return result;
};

var points = outliers.concat(
  rowsToPoints(cloudRows),
  rowsToPoints(bandRows),
  rowsToPoints(cloudInfill),
  rowsToPoints(bandInfill),
  ridgeStars
);

// Dots first, grid above them as in the original.
svg.append('g').selectAll('circle')
  .data(points)
  .enter()
  .append('circle')
  .attr('cx', function(d) {return x(d[0]);})
  .attr('cy', function(d) {return y(d[1]);})
  .attr('r', DOT_RADIUS)
  .attr('fill', function(d) {return color(d[2] * 1e-4);});

var grid = svg.append('g').attr('stroke', '#b0b0b0').attr('stroke-width', LINE_WIDTH);
grid.selectAll('.gx').data(xTicks).enter().append('line')
  .attr('x1', x).attr('x2', x).attr('y1', margin.top).attr('y2', margin.bottom);
grid.selectAll('.gy').data(yTicks).enter().append('line')
  .attr('y1', y).attr('y2', y).attr('x1', margin.left).attr('x2', margin.right);

/**
 * styleAxis
 * =========
 * Makes a d3 axis look like the matplotlib one.
 */
var styleAxis = function(g) {
  g.selectAll('.domain').remove();
  g.selectAll('line').attr('stroke', '#000').attr('stroke-width', LINE_WIDTH);
  g.selectAll('text').style('font-size', TICK_FONT).style('font-family', '"DejaVu Sans"').attr('fill', '#000');
};

svg.append('g')
  .attr('transform', 'translate(0,' + margin.bottom + ')')
  .call(d3.axisBottom(x).tickValues(xTicks).tickSize(TICK_LENGTH).tickPadding(6).tickFormat(d3.format('d')))
  .call(styleAxis);
svg.append('g')
  .attr('transform', 'translate(' + margin.left + ',0)')
  .call(d3.axisLeft(y).tickValues(yTicks).tickSize(TICK_LENGTH).tickPadding(6).tickFormat(d3.format('d')))
  .call(styleAxis);

svg.append('rect')
  .attr('x', margin.left).attr('y', margin.top)
  .attr('width', margin.right - margin.left).attr('height', margin.bottom - margin.top)
  .attr('fill', 'none').attr('stroke', '#000').attr('stroke-width', LINE_WIDTH);

// Colour bar.
var gradient = svg.append('defs').append('linearGradient')
  .attr('id', 'cividis-bar').attr('x1', 0).attr('x2', 0).attr('y1', 1).attr('y2', 0);
gradient.selectAll('stop').data(d3.range(0, 1.001, 0.02)).enter().append('stop')
  .attr('offset', function(d) {return d;})
  .attr('stop-color', function(d) {return d3.interpolateCividis(d);});
svg.append('rect')
  .attr('x', bar.left).attr('y', margin.top)
  .attr('width', bar.right - bar.left).attr('height', margin.bottom - margin.top)
  .attr('fill', 'url(#cividis-bar)').attr('stroke', '#000').attr('stroke-width', LINE_WIDTH);
svg.append('g')
  .attr('transform', 'translate(' + bar.right + ',0)')
  .call(d3.axisRight(barScale).tickValues(barTicks).tickSize(TICK_LENGTH).tickPadding(7).tickFormat(d3.format('.3f')))
  .call(styleAxis);

// Text.
svg.append('text').text(TITLE)
  .attr('x', (margin.left + margin.right) / 2).attr('y', 25)
  .attr('text-anchor', 'middle').style('font-size', '26.5px');
svg.append('text').text(X_LABEL)
  .attr('x', (margin.left + margin.right) / 2).attr('y', 901)
  .attr('text-anchor', 'middle').style('font-size', '22px');
svg.append('text').text(Y_LABEL)
  .attr('transform', 'translate(28,' + (margin.top + margin.bottom) / 2 + ') rotate(-90)')
  .attr('text-anchor', 'middle').style('font-size', '22px');
svg.append('text').text(BAR_LABEL)
  .attr('transform', 'translate(1057,' + (margin.top + margin.bottom) / 2 + ') rotate(-90)')
  .attr('text-anchor', 'middle').style('font-size', '22px');
</script>
</body>
</html>
